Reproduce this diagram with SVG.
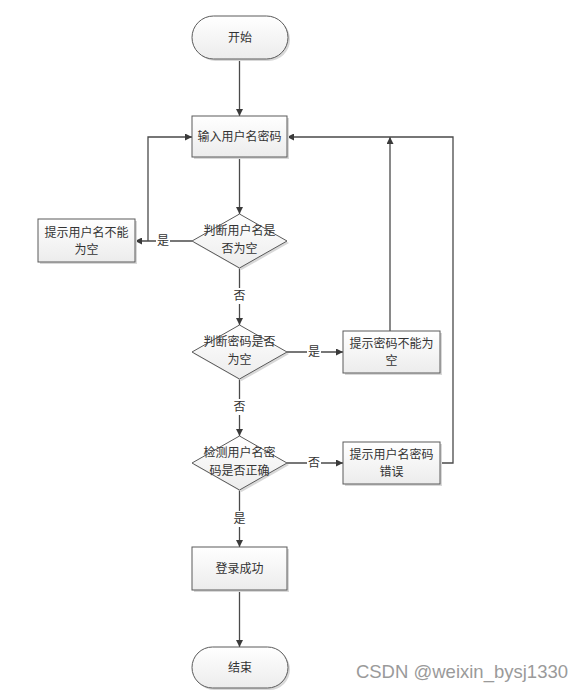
<svg xmlns="http://www.w3.org/2000/svg" width="584" height="694" viewBox="0 0 584 694">
<style>
.n{fill:url(#g);stroke:#5a5a5a;stroke-width:1}
.sh{fill:#d8d8d8;stroke:none}
.t{font-family:"Noto Sans CJK SC","Liberation Serif",serif;font-size:12px;fill:#333;text-anchor:middle}
.c{fill:none;stroke:#4a4a4a;stroke-width:1.3}
.l{font-family:"Noto Sans CJK SC","Liberation Serif",serif;font-size:12px;fill:#333;text-anchor:middle}
</style>
<defs>
<linearGradient id="g" x1="0" y1="0" x2="0" y2="1"><stop offset="0" stop-color="#ffffff"/><stop offset="1" stop-color="#ececec"/></linearGradient>
<marker id="a" viewBox="0 0 10 10" refX="10" refY="5" markerWidth="7" markerHeight="7" markerUnits="userSpaceOnUse" orient="auto"><path d="M0,0 L10,5 L0,10 z" fill="#3a3a3a"/></marker>
</defs>
<rect width="584" height="694" fill="#fff"/>
<g id="connectors">
<path class="c" d="M239.5,59 V116" marker-end="url(#a)"/>
<path class="c" d="M239.5,157 V214" marker-end="url(#a)"/>
<path class="c" d="M192,241 H135" marker-end="url(#a)"/>
<path class="c" d="M148,241 V137 H192" marker-end="url(#a)"/>
<path class="c" d="M239.5,268 V325" marker-end="url(#a)"/>
<path class="c" d="M287,352 H343" marker-end="url(#a)"/>
<path class="c" d="M390,331 V137" marker-end="url(#a)"/>
<path class="c" d="M239.5,379 V436" marker-end="url(#a)"/>
<path class="c" d="M287,463 H343" marker-end="url(#a)"/>
<path class="c" d="M440,463 H453 V137 H287" marker-end="url(#a)"/>
<path class="c" d="M239.5,490 V547" marker-end="url(#a)"/>
<path class="c" d="M239.5,590 V647" marker-end="url(#a)"/>
<rect x="156" y="233" width="14" height="16" fill="#fff"/>
<text class="l" x="163" y="245">是</text>
<rect x="232" y="288" width="14" height="16" fill="#fff"/>
<text class="l" x="239.5" y="300">否</text>
<rect x="307" y="344" width="14" height="16" fill="#fff"/>
<text class="l" x="314" y="356">是</text>
<rect x="232" y="399" width="14" height="16" fill="#fff"/>
<text class="l" x="239.5" y="411">否</text>
<rect x="307" y="455" width="14" height="16" fill="#fff"/>
<text class="l" x="314" y="467">否</text>
<rect x="232" y="511" width="14" height="16" fill="#fff"/>
<text class="l" x="239.5" y="523">是</text>
</g>
<g id="start">
<rect class="sh" x="194" y="18" width="96" height="43" rx="21.5"/>
<rect class="n" x="192" y="16" width="96" height="43" rx="21.5"/>
<text class="t" x="240" y="42">开始</text>
</g>
<g id="input">
<rect class="sh" x="194" y="118" width="95" height="41"/>
<rect class="n" x="192" y="116" width="95" height="41"/>
<text class="t" x="239.5" y="141">输入用户名密码</text>
</g>
<g id="check-user">
<polygon class="sh" points="241.5,216 289,243 241.5,270 194,243"/>
<polygon class="n" points="239.5,214 287,241 239.5,268 192,241"/>
<text class="t" x="239.5" y="235">判断用户名是</text>
<text class="t" x="239.5" y="253">否为空</text>
</g>
<g id="user-empty">
<rect class="sh" x="40" y="221" width="97" height="43"/>
<rect class="n" x="38" y="219" width="97" height="43"/>
<text class="t" x="86.5" y="237">提示用户名不能</text>
<text class="t" x="86.5" y="254">为空</text>
</g>
<g id="check-pwd">
<polygon class="sh" points="241.5,327 289,354 241.5,381 194,354"/>
<polygon class="n" points="239.5,325 287,352 239.5,379 192,352"/>
<text class="t" x="239.5" y="346">判断密码是否</text>
<text class="t" x="239.5" y="364">为空</text>
</g>
<g id="pwd-empty">
<rect class="sh" x="345" y="333" width="97" height="42"/>
<rect class="n" x="343" y="331" width="97" height="42"/>
<text class="t" x="391.5" y="348">提示密码不能为</text>
<text class="t" x="391.5" y="365">空</text>
</g>
<g id="check-both">
<polygon class="sh" points="241.5,438 289,465 241.5,492 194,465"/>
<polygon class="n" points="239.5,436 287,463 239.5,490 192,463"/>
<text class="t" x="239.5" y="457">检测用户名密</text>
<text class="t" x="239.5" y="475">码是否正确</text>
</g>
<g id="wrong">
<rect class="sh" x="345" y="444" width="97" height="42"/>
<rect class="n" x="343" y="442" width="97" height="42"/>
<text class="t" x="391.5" y="459">提示用户名密码</text>
<text class="t" x="391.5" y="476">错误</text>
</g>
<g id="success">
<rect class="sh" x="194" y="549" width="95" height="43"/>
<rect class="n" x="192" y="547" width="95" height="43"/>
<text class="t" x="239.5" y="573">登录成功</text>
</g>
<g id="end">
<rect class="sh" x="194" y="649" width="96" height="41" rx="20.5"/>
<rect class="n" x="192" y="647" width="96" height="41" rx="20.5"/>
<text class="t" x="240" y="672">结束</text>
</g>
<text x="568" y="678" font-family="Liberation Sans, Arial, sans-serif" font-size="18.5" fill="#9a9a9a" text-anchor="end">CSDN @weixin_bysj1330</text>
</svg>
